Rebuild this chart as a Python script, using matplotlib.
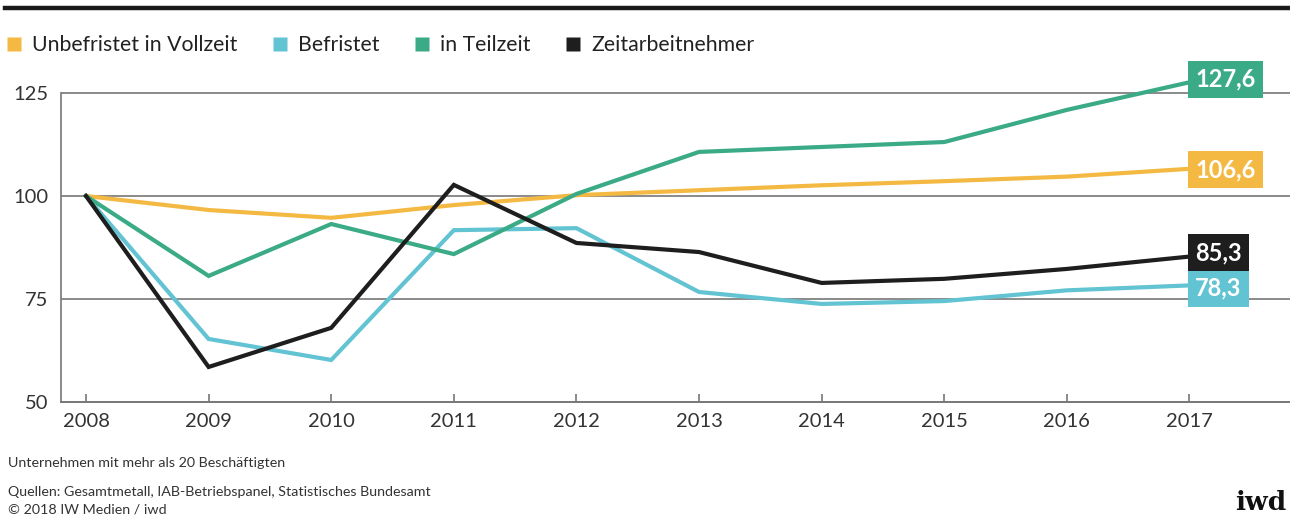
import matplotlib
matplotlib.use("Agg")
import matplotlib.pyplot as plt
from matplotlib.lines import Line2D
from matplotlib.lines import Line2D as L2D

plt.rcParams['font.family'] = ['Lato', 'DejaVu Sans']

years = [2008, 2009, 2010, 2011, 2012, 2013, 2014, 2015, 2016, 2017]
unbefristet = [100, 96.6, 94.7, 97.8, 100.2, 101.4, 102.6, 103.6, 104.7, 106.6]
befristet = [100, 65.3, 60.2, 91.7, 92.2, 76.7, 73.8, 74.5, 77.1, 78.3]
teilzeit = [100, 80.6, 93.2, 85.9, 100.5, 110.7, 111.9, 113.1, 120.9, 127.6]
zeitarbeit = [100, 58.5, 68.0, 102.7, 88.6, 86.4, 78.9, 79.9, 82.3, 85.3]

series_names = ["Unbefristet in Vollzeit", "Befristet", "in Teilzeit", "Zeitarbeitnehmer"]
series_values = [unbefristet, befristet, teilzeit, zeitarbeit]
colors = ["#F4B942", "#62C3D3", "#3BAA86", "#1E1E1E"]
label_texts = ["106,6", "78,3", "127,6", "85,3"]
label_offsets_px = [-1, -3, 3, 4]   # small vertical nudges to avoid overlap
yticks = [50, 75, 100, 125]

fig = plt.figure(figsize=(12.9, 5.18), dpi=100)
ax = fig.add_axes([61 / 1290, 1 - 402 / 518, 1 - 61 / 1290, (402 - 72.4) / 518])
ax.set_xlim(2007.796, 2017.82)
ax.set_ylim(50, 130)

for v in [75, 100, 125]:
    ax.axhline(v, color="#8a8a8a", lw=1.4, zorder=1)

for vals, c in zip(series_values, colors):
    ax.plot(years, vals, color=c, lw=3.0, zorder=3, solid_joinstyle="miter", clip_on=False)

for vals, c, t, off in zip(series_values, colors, label_texts, label_offsets_px):
    ax.annotate(t, xy=(years[-1], vals[-1]), xytext=(4.2, off * 0.72),
                textcoords="offset points", ha="left", va="center",
                color="white", fontsize=17, fontweight="bold",
                bbox=dict(boxstyle="square,pad=0.3", fc=c, ec="none"), zorder=5)

ax.set_yticks(yticks)
ax.set_yticklabels([str(v) for v in yticks])
ax.set_xticks(years)
ax.set_xticklabels([str(y) for y in years])
ax.tick_params(axis="y", length=0, pad=9, labelsize=14.5, labelcolor="#333333")
ax.tick_params(axis="x", direction="in", length=6, width=1.2, color="#777777",
               pad=8, labelsize=14.5, labelcolor="#333333")
for s in ["top", "right"]:
    ax.spines[s].set_visible(False)
ax.spines["left"].set_bounds(50, 125)
ax.spines["left"].set_color("#777777")
ax.spines["left"].set_linewidth(1.2)
ax.spines["bottom"].set_color("#777777")
ax.spines["bottom"].set_linewidth(1.4)

# top rule
fig.add_artist(L2D([5 / 1290, 1.0], [1 - 8 / 518, 1 - 8 / 518], color="#1a1a1a", lw=3.2,
                   transform=fig.transFigure))

handles = [Line2D([], [], marker="s", ls="none", markersize=10, markerfacecolor=c,
                  markeredgecolor="none") for c in colors]
fig.legend(handles, series_names, loc="center left", bbox_to_anchor=(0.0, 1 - 45 / 518),
           ncol=4, frameon=False, fontsize=15.3, handlelength=0.75, handletextpad=0.45,
           columnspacing=1.65, borderaxespad=0, borderpad=0.3, labelcolor="#222222")

fig.text(8 / 1290, 1 - 463 / 518, "Unternehmen mit mehr als 20 Beschäftigten",
         fontsize=10.3, color="#333333", va="center", ha="left")
fig.text(8 / 1290, 1 - 492 / 518, "Quellen: Gesamtmetall, IAB-Betriebspanel, Statistisches Bundesamt",
         fontsize=10.3, color="#333333", va="center", ha="left")
fig.text(8 / 1290, 1 - 509 / 518, "© 2018 IW Medien / iwd",
         fontsize=10.3, color="#333333", va="center", ha="left")
fig.text(1286 / 1290, 1 - 502 / 518, "iwd", fontsize=19, fontweight="bold",
         family="DejaVu Serif", color="#111111", ha="right", va="center")

fig.savefig("out.png", dpi=100, facecolor="white")
